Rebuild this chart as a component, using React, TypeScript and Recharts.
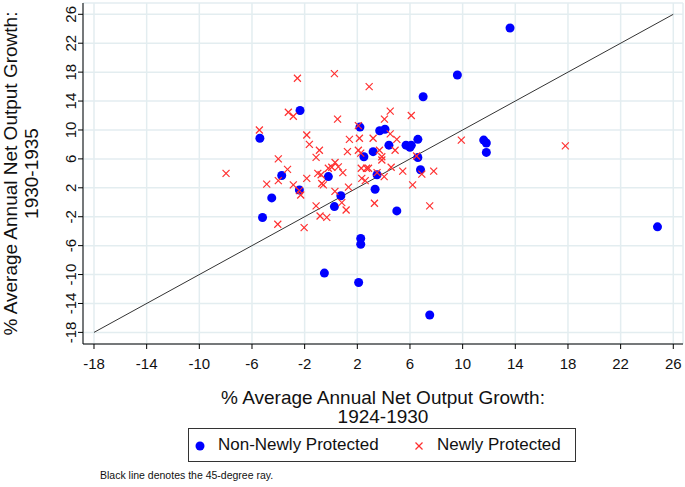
import { ScatterChart, Scatter, XAxis, YAxis, CartesianGrid, ReferenceLine, Legend } from 'recharts';

const FONT = '"Liberation Sans", Arial, sans-serif';

const X_TICKS = [-18, -14, -10, -6, -2, 2, 6, 10, 14, 18, 22, 26];
const Y_TICKS = [-18, -14, -10, -6, -2, 2, 6, 10, 14, 18, 22, 26];

// non-newly protected industries (x = 1924-1930 growth, y = 1930-1935 growth)
const nonNewX = [13.6, 9.6, 7.0, -2.35, -5.4, 2.2, 3.7, 4.1, 6.6, 5.7, 6.0, 6.1, 4.4, 3.2, 2.5, 6.6, 6.8, 11.6, 11.8, 11.8, 3.5, -0.2, -3.74, -2.4, 3.35, -4.5, 0.75, 0.26, 5.0, -5.2, 2.26, 2.26, -0.5, 2.1, 7.5, 24.8];
const nonNewY = [24.1, 17.6, 14.6, 12.7, 8.85, 10.4, 9.9, 10.1, 8.7, 7.9, 7.6, 7.9, 7.9, 7.0, 6.3, 6.2, 4.5, 8.6, 8.2, 6.9, 3.8, 3.55, 3.7, 1.7, 1.8, 0.6, 0.9, -0.6, -1.2, -2.1, -5.0, -5.8, -9.8, -11.1, -15.6, -3.4];

// newly protected industries
const newX = [-2.55, 0.26, 2.9, -3.24, -2.86, 0.5, 4.5, 4.06, 6.1, -5.44, -1.84, -1.64, -0.88, 2.08, 4.5, 1.4, 2.16, 3.2, 5.0, 9.9, 17.8, 1.25, 2.08, 2.26, 3.68, 4.87, 3.86, 6.5, -4.0, -1.13, 0.31, -0.2, 0.06, 0.56, -3.3, 2.7, 2.3, 2.85, 5.45, 7.8, 6.9, -1.0, -0.75, 0.9, 3.5, 4.57, 4.04, -4.0, -1.84, -0.7, -0.58, 2.34, 2.6, -2.86, -4.88, -2.4, -2.3, 1.33, 6.2, 0.3, -1.13, 0.82, 1.15, 3.3, 7.5, -0.83, -0.32, -4.04, -2.04, -7.97, 3.86];
const newY = [17.15, 17.8, 16.0, 12.45, 11.9, 11.5, 12.6, 11.5, 12.0, 10.0, 9.3, 8.0, 7.2, 10.6, 9.45, 8.7, 8.85, 8.85, 8.7, 8.6, 7.8, 7.0, 7.2, 6.8, 7.2, 7.2, 6.3, 6.4, 6.0, 6.2, 5.5, 4.7, 4.85, 4.9, 4.55, 4.7, 4.7, 4.7, 4.3, 4.3, 3.9, 4.0, 3.8, 4.1, 4.1, 4.85, 3.55, 3.0, 3.3, 2.6, 2.4, 3.3, 3.0, 2.4, 2.5, 1.6, 1.0, 2.1, 2.4, 1.5, -0.5, -0.05, -1.07, -0.14, -0.5, -1.9, -2.1, -3.04, -3.5, 4.0, 5.85];

const SERIES_NAMES = ['Non-Newly Protected', 'Newly Protected'];

const nonNewData = nonNewX.map((x, i) => ({ x, y: nonNewY[i] }));
const newData = newX.map((x, i) => ({ x, y: newY[i] }));

const BLUE = '#0000ff';
const RED = '#ff3030';

const Dot = (props: any) => <circle cx={props.cx} cy={props.cy} r={4.5} fill={BLUE} />;

const Cross = (props: any) => {
  const { cx, cy } = props;
  const s = 3.5;
  return (
    <g stroke={RED} strokeWidth={1.2}>
      <line x1={cx - s} y1={cy - s} x2={cx + s} y2={cy + s} />
      <line x1={cx - s} y1={cy + s} x2={cx + s} y2={cy - s} />
    </g>
  );
};

const YTick = (props: any) => {
  const { x, y, payload } = props;
  return (
    <text x={x} y={y} transform={`rotate(-90 ${x} ${y})`} textAnchor="middle" fontSize={15} fill="#111" fontFamily={FONT}>
      {payload.value}
    </text>
  );
};

const XTitle = (props: any) => {
  const { x, y, width } = props.viewBox;
  const cx = x + width / 2;
  return (
    <text textAnchor="middle" fontSize={19} fill="#111" fontFamily={FONT}>
      <tspan x={cx} y={y + 60}>% Average Annual Net Output Growth:</tspan>
      <tspan x={cx} y={y + 79}>1924-1930</tspan>
    </text>
  );
};

const YTitle = (props: any) => {
  const { y, height } = props.viewBox;
  const cy = y + height / 2;
  return (
    <g fontSize={19} fill="#111" fontFamily={FONT}>
      <text x={16.5} y={cy} transform={`rotate(-90 16.5 ${cy})`} textAnchor="middle">% Average Annual Net Output Growth:</text>
      <text x={38} y={cy} transform={`rotate(-90 38 ${cy})`} textAnchor="middle">1930-1935</text>
    </g>
  );
};

const renderLegend = () => {
  const pos = [0, 219];
  return (
    <div style={{ position: 'relative', boxSizing: 'border-box', width: 388, height: 34, border: '1px solid #333', background: '#fff', fontFamily: FONT, fontSize: 17, color: '#111' }}>
      {SERIES_NAMES.map((name, i) => (
        <div key={name} style={{ position: 'absolute', left: pos[i], top: 0, height: 32, display: 'flex', alignItems: 'center', whiteSpace: 'nowrap' }}>
          <svg width={28} height={32}>
            {i === 0 ? <Dot cx={11} cy={17} /> : <Cross cx={11} cy={17} />}
          </svg>
          <span style={{ marginLeft: 1 }}>{name}</span>
        </div>
      ))}
    </div>
  );
};

export default function App() {
  return (
    <div style={{ position: 'absolute', left: 0, top: 0, width: 685, height: 487, background: '#fff' }}>
      <ScatterChart width={685} height={487} margin={{ top: 3, right: 2, left: 0, bottom: 0 }}>
        <CartesianGrid stroke="#e3edf0" strokeWidth={1.5} />
        <XAxis
          type="number"
          dataKey="x"
          domain={[-18.835, 26.737]}
          ticks={X_TICKS}
          allowDataOverflow
          height={143}
          tickSize={5}
          tickMargin={9}
          stroke="#000"
          tick={{ fontSize: 15, fill: '#111', fontFamily: FONT }}
          label={{ content: XTitle }}
        />
        <YAxis
          type="number"
          dataKey="y"
          domain={[-19.605, 27.563]}
          ticks={Y_TICKS}
          allowDataOverflow
          width={83}
          tickSize={5}
          tickMargin={2}
          stroke="#000"
          tick={YTick}
          label={{ content: YTitle }}
        />
        <ReferenceLine segment={[{ x: -18, y: -18 }, { x: 26, y: 26 }]} stroke="#333" strokeWidth={1} />
        <Scatter name={SERIES_NAMES[0]} data={nonNewData} fill={BLUE} shape={Dot} isAnimationActive={false} />
        <Scatter name={SERIES_NAMES[1]} data={newData} fill={RED} shape={Cross} isAnimationActive={false} />
        <Legend
          layout="horizontal"
          verticalAlign="middle"
          align="center"
          content={renderLegend}
          wrapperStyle={{ left: 188, top: 428, width: 388, height: 34 }}
        />
      </ScatterChart>
      <div style={{ position: 'absolute', left: 100, top: 469, fontFamily: FONT, fontSize: 10.5, color: '#111' }}>
        Black line denotes the 45-degree ray.
      </div>
    </div>
  );
}
